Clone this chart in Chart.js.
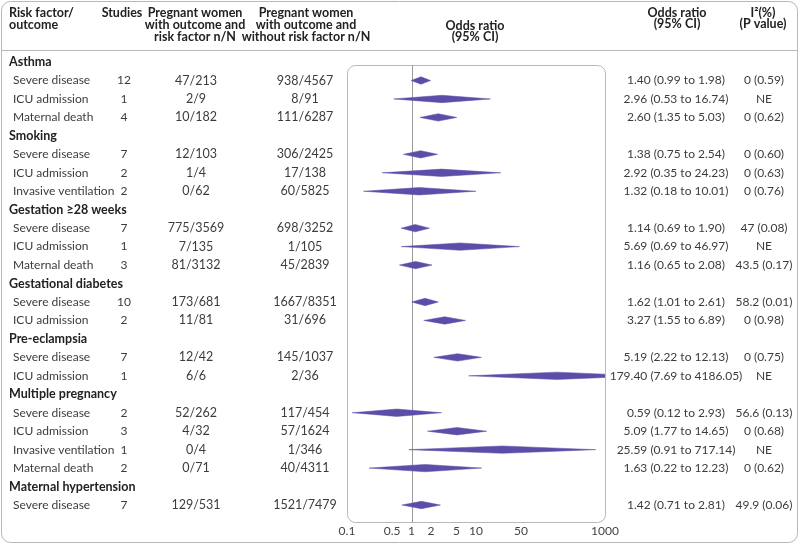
<!DOCTYPE html>
<html>
<head>
<meta charset="utf-8">
<script src="https://cdn.jsdelivr.net/npm/chart.js@4/dist/chart.umd.min.js"></script>
<style>
  body { margin: 0; background: #fff; }
  canvas { display: block; }
</style>
</head>
<body>
<canvas id="forest" width="800" height="546"></canvas>
<script>
// one entry per table row; null marks a group header row
const rowLabels = ['Asthma', 'Severe disease', 'ICU admission', 'Maternal death',
  'Smoking', 'Severe disease', 'ICU admission', 'Invasive ventilation',
  'Gestation ≥28 weeks', 'Severe disease', 'ICU admission', 'Maternal death',
  'Gestational diabetes', 'Severe disease', 'ICU admission',
  'Pre-eclampsia', 'Severe disease', 'ICU admission',
  'Multiple pregnancy', 'Severe disease', 'ICU admission', 'Invasive ventilation', 'Maternal death',
  'Maternal hypertension', 'Severe disease'];
const studies = [null, 12, 1, 4, null, 7, 2, 2, null, 7, 1, 3, null, 10, 2, null, 7, 1, null, 2, 3, 1, 2, null, 7];
const withRisk = [null, '47/213', '2/9', '10/182', null, '12/103', '1/4', '0/62', null, '775/3569', '7/135', '81/3132',
  null, '173/681', '11/81', null, '12/42', '6/6', null, '52/262', '4/32', '0/4', '0/71', null, '129/531'];
const withoutRisk = [null, '938/4567', '8/91', '111/6287', null, '306/2425', '17/138', '60/5825', null, '698/3252', '1/105', '45/2839',
  null, '1667/8351', '31/696', null, '145/1037', '2/36', null, '117/454', '57/1624', '1/346', '40/4311', null, '1521/7479'];
const oddsRatio = [null, 1.40, 2.96, 2.60, null, 1.38, 2.92, 1.32, null, 1.14, 5.69, 1.16, null, 1.62, 3.27, null, 5.19, 179.40,
  null, 0.59, 5.09, 25.59, 1.63, null, 1.42];
const ciLow = [null, 0.99, 0.53, 1.35, null, 0.75, 0.35, 0.18, null, 0.69, 0.69, 0.65, null, 1.01, 1.55, null, 2.22, 7.69,
  null, 0.12, 1.77, 0.91, 0.22, null, 0.71];
const ciHigh = [null, 1.98, 16.74, 5.03, null, 2.54, 24.23, 10.01, null, 1.90, 46.97, 2.08, null, 2.61, 6.89, null, 12.13, 4186.05,
  null, 2.93, 14.65, 717.14, 12.23, null, 2.81];
const i2Text = [null, '0 (0.59)', 'NE', '0 (0.62)', null, '0 (0.60)', '0 (0.63)', '0 (0.76)', null, '47 (0.08)', 'NE', '43.5 (0.17)',
  null, '58.2 (0.01)', '0 (0.98)', null, '0 (0.75)', 'NE', null, '56.6 (0.13)', '0 (0.68)', 'NE', '0 (0.62)', null, '49.9 (0.06)'];
const xTicks = [0.1, 0.5, 1, 2, 5, 10, 50, 1000];

const FONT = 'Lato, "Open Sans", sans-serif';
const PURPLE = '#5b4ea8';
const LINE = '#b8b8b8';
const HALF = 0.2; // diamond half height, in rows

const datasets = [];
oddsRatio.forEach((or, i) => {
  if (or == null) return;
  datasets.push({
    data: [
      { x: ciLow[i], y: i }, { x: or, y: i - HALF }, { x: ciHigh[i], y: i },
      { x: or, y: i + HALF }, { x: ciLow[i], y: i }
    ],
    showLine: true, fill: 'shape', tension: 0,
    backgroundColor: PURPLE, borderColor: PURPLE, borderWidth: 0.5,
    pointRadius: 0, pointHoverRadius: 0
  });
});

function roundRect(ctx, x, y, w, h, r) {
  ctx.beginPath();
  ctx.moveTo(x + r, y);
  ctx.arcTo(x + w, y, x + w, y + h, r);
  ctx.arcTo(x + w, y + h, x, y + h, r);
  ctx.arcTo(x, y + h, x, y, r);
  ctx.arcTo(x, y, x + w, y, r);
  ctx.closePath();
}

const frame = {
  id: 'frame',
  beforeDatasetsDraw(chart) {
    const { ctx, chartArea: a, scales: { x } } = chart;
    ctx.save();
    ctx.strokeStyle = LINE; ctx.lineWidth = 1;
    roundRect(ctx, a.left + 0.5, a.top + 0.5, a.right - a.left, a.bottom - a.top, 8);
    ctx.stroke();
    const px = Math.round(x.getPixelForValue(1)) + 0.5;
    ctx.strokeStyle = '#9a9a9a';
    ctx.beginPath(); ctx.moveTo(px, a.top); ctx.lineTo(px, a.bottom); ctx.stroke();
    ctx.restore();
  },
  afterDraw(chart) {
    const { ctx, scales: { y } } = chart;
    ctx.save();
    // outer border and header rule
    ctx.strokeStyle = LINE; ctx.lineWidth = 1;
    roundRect(ctx, 1.5, 1.5, 796, 541, 9);
    ctx.stroke();
    ctx.beginPath(); ctx.moveTo(2, 50.5); ctx.lineTo(798, 50.5); ctx.stroke();

    ctx.textBaseline = 'middle';
    const put = (t, x, yy, align, bold, size) => {
      ctx.font = (bold ? 'bold ' : '') + (size || 12) + 'px ' + FONT;
      ctx.textAlign = align;
      ctx.fillText(t, x, yy);
    };
    // column headers
    const H = 12.5;
    ctx.fillStyle = '#222';
    put('Risk factor/', 9, 13, 'left', true, H);
    put('outcome', 9, 25, 'left', true, H);
    put('Studies', 122, 13, 'center', true, H);
    ['Pregnant women', 'with outcome and', 'risk factor n/N'].forEach((t, k) => put(t, 195, 13 + 12 * k, 'center', true, H));
    ['Pregnant women', 'with outcome and', 'without risk factor n/N'].forEach((t, k) => put(t, 306, 13 + 12 * k, 'center', true, H));
    put('Odds ratio', 475, 26, 'center', true, H);
    put('(95% CI)', 475, 37, 'center', true, H);
    put('Odds ratio', 677, 13, 'center', true, H);
    put('(95% CI)', 677, 24, 'center', true, H);
    put('I²(%)', 763, 13, 'center', true, H);
    put('(P value)', 763, 24, 'center', true, H);

    // rows
    rowLabels.forEach((label, i) => {
      const yy = y.getPixelForValue(i);
      if (studies[i] == null) {
        ctx.fillStyle = '#222';
        put(label, 9, yy, 'left', true, 12.5);
        return;
      }
      ctx.fillStyle = '#3c3c3c';
      put(label, 13, yy, 'left', false);
      put(String(studies[i]), 124, yy, 'center', false);
      put(withRisk[i], 196, yy, 'center', false, 12.5);
      put(withoutRisk[i], 305, yy, 'center', false, 12.5);
      put(`${oddsRatio[i].toFixed(2)} (${ciLow[i].toFixed(2)} to ${ciHigh[i].toFixed(2)})`, 676, yy, 'center', false);
      put(i2Text[i], 764, yy, 'center', false);
    });
    ctx.restore();
  }
};

new Chart(document.getElementById('forest'), {
  type: 'scatter',
  data: { datasets },
  plugins: [frame],
  options: {
    responsive: false,
    animation: false,
    layout: { padding: { left: 347, right: 195, top: 65, bottom: 0 } },
    plugins: { legend: { display: false }, tooltip: { enabled: false } },
    scales: {
      x: {
        type: 'logarithmic', min: 0.1, max: 1000,
        afterBuildTicks: s => { s.ticks = xTicks.map(v => ({ value: v })); },
        afterFit: s => { s.height = 24; },
        grid: { display: false, drawTicks: false },
        border: { display: false },
        ticks: { color: '#444', padding: 2, maxRotation: 0, autoSkip: false,
          font: { family: FONT, size: 12 }, callback: v => String(v) }
      },
      y: {
        type: 'linear', reverse: true, min: 0.16, max: 24.92,
        display: false
      }
    }
  }
});
</script>
</body>
</html>
